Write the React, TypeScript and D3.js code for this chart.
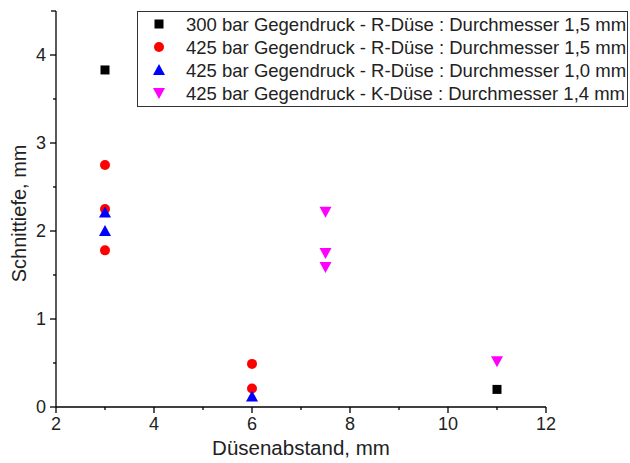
import React from "react";
import * as d3 from "d3";

const seriesNames = [
  "300 bar Gegendruck - R-Düse : Durchmesser 1,5 mm",
  "425 bar Gegendruck - R-Düse : Durchmesser 1,5 mm",
  "425 bar Gegendruck - R-Düse : Durchmesser 1,0 mm",
  "425 bar Gegendruck - K-Düse : Durchmesser 1,4 mm",
];
const seriesColors = ["#000000", "#ff0000", "#0000ff", "#ff00ff"];
const seriesShapes = ["square", "circle", "triangle", "triangleDown"];

const s300R15x = [3, 11];
const s300R15y = [3.83, 0.2];
const s425R15x = [3, 3, 3, 6, 6];
const s425R15y = [2.75, 2.25, 1.78, 0.49, 0.21];
const s425R10x = [3, 3, 6];
const s425R10y = [2.21, 2.0, 0.12];
const s425K14x = [7.5, 7.5, 7.5, 11];
const s425K14y = [2.22, 1.75, 1.59, 0.52];

const xs = [s300R15x, s425R15x, s425R10x, s425K14x];
const ys = [s300R15y, s425R15y, s425R10y, s425K14y];

const xTicks = [2, 4, 6, 8, 10, 12];
const xMinor = [3, 5, 7, 9, 11];
const yTicks = [0, 1, 2, 3, 4];
const yMinor = [0.5, 1.5, 2.5, 3.5];

const xLabel = "Düsenabstand, mm";
const yLabel = "Schnittiefe, mm";

const font = "'Liberation Sans', Arial, sans-serif";

function Marker({ shape, cx, cy, color }: { shape: string; cx: number; cy: number; color: string }) {
  if (shape === "square") return <rect x={cx - 4.5} y={cy - 4.5} width={9} height={9} fill={color} />;
  if (shape === "circle") return <circle cx={cx} cy={cy} r={5} fill={color} />;
  if (shape === "triangle")
    return <path d={`M${cx},${cy - 6} L${cx + 6},${cy + 5} L${cx - 6},${cy + 5} Z`} fill={color} />;
  return <path d={`M${cx},${cy + 6} L${cx + 6},${cy - 5} L${cx - 6},${cy - 5} Z`} fill={color} />;
}

export default function App() {
  const W = 630, H = 463;
  const x = d3.scaleLinear().domain([2, 12]).range([56, 546]);
  const y = d3.scaleLinear().domain([0, 4.5]).range([407, 11]);
  const x0 = x(2), y0 = y(0);
  return (
    <svg width={W} height={H} style={{ position: "absolute", left: 0, top: 0, background: "#fff" }} fontFamily={font}>
      <rect width={W} height={H} fill="#fff" />
      {/* axes */}
      <line x1={x0} x2={x0} y1={y(4.5)} y2={y0} stroke="#000" strokeWidth={1.3} />
      <line x1={x0} x2={x0 - 5} y1={y(4.5)} y2={y(4.5)} stroke="#000" strokeWidth={1.3} />
      <line x1={x0} x2={x(12)} y1={y0} y2={y0} stroke="#000" strokeWidth={1.3} />
      {xTicks.map((t) => (
        <g key={"xt" + t}>
          <line x1={x(t)} x2={x(t)} y1={y0} y2={y0 + 6} stroke="#000" strokeWidth={1.3} />
          <text x={x(t)} y={y0 + 23} textAnchor="middle" fontSize={18} fill="#222">{t}</text>
        </g>
      ))}
      {xMinor.map((t) => (
        <line key={"xm" + t} x1={x(t)} x2={x(t)} y1={y0} y2={y0 + 3} stroke="#000" strokeWidth={1.3} />
      ))}
      {yTicks.map((t) => (
        <g key={"yt" + t}>
          <line x1={x0} x2={x0 - 6} y1={y(t)} y2={y(t)} stroke="#000" strokeWidth={1.3} />
          <text x={x0 - 10} y={y(t) + 6} textAnchor="end" fontSize={18} fill="#222">{t}</text>
        </g>
      ))}
      {yMinor.map((t) => (
        <line key={"ym" + t} x1={x0} x2={x0 - 3} y1={y(t)} y2={y(t)} stroke="#000" strokeWidth={1.3} />
      ))}
      <text x={x(7)} y={455} textAnchor="middle" fontSize={20.5} fill="#222">{xLabel}</text>
      <text transform={`translate(26,${y(2.2)}) rotate(-90)`} textAnchor="middle" fontSize={20} fill="#222">{yLabel}</text>
      {/* data */}
      {xs.map((arr, si) =>
        arr.map((xv, i) => (
          <Marker key={si + "-" + i} shape={seriesShapes[si]} cx={x(xv)} cy={y(ys[si][i])} color={seriesColors[si]} />
        ))
      )}
      {/* legend */}
      <rect x={137.5} y={11.5} width={490} height={95} fill="#fff" stroke="#333" strokeWidth={1} />
      {seriesNames.map((n, i) => (
        <g key={"lg" + i}>
          <Marker shape={seriesShapes[i]} cx={159} cy={24 + i * 23} color={seriesColors[i]} />
          <text x={186} y={24 + i * 23 + 6.5} fontSize={18.5} fill="#222">{n}</text>
        </g>
      ))}
    </svg>
  );
}
